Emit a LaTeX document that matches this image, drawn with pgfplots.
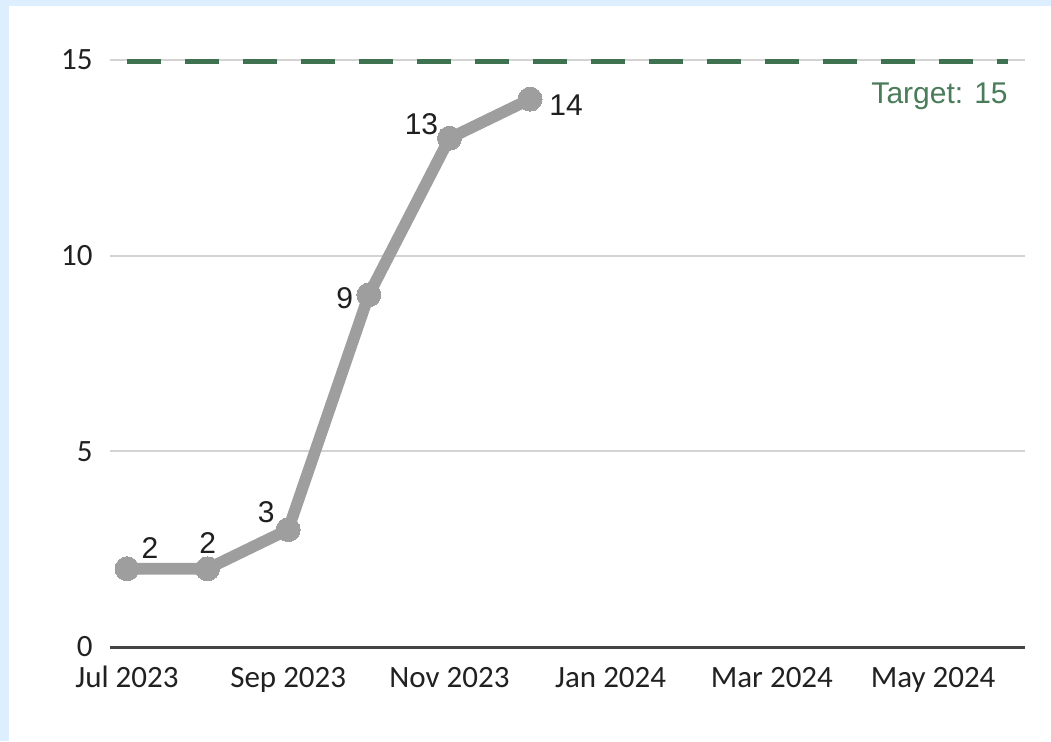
\documentclass[border=0pt]{standalone}
\usepackage{pgfplots}
\pgfplotsset{compat=1.18}
\usepackage{fontspec}
\setmainfont{Carlito}
\newfontfamily\labelfont{Liberation Sans}
\definecolor{bgblue}{HTML}{DDEEFE}
\definecolor{linegrey}{HTML}{9E9E9E}
\definecolor{targetgreen}{HTML}{3F7250}
\definecolor{targettext}{HTML}{4A7C59}
\definecolor{gridgrey}{HTML}{D3D3D3}
\definecolor{axisgrey}{HTML}{444444}

\begin{document}
\begin{tikzpicture}
\path[use as bounding box] (0,0) rectangle (525.5pt,370.5pt);
\fill[white] (0,0) rectangle (525.5pt,370.5pt);
\fill[bgblue] (0,0) rectangle (4.5pt,370.5pt);
\fill[bgblue] (0,367.5pt) rectangle (525.5pt,370.5pt);
\begin{axis}[
  at={(55pt,47pt)}, anchor=south west,
  scale only axis, width=457.5pt, height=293.5pt,
  xmin=-0.211, xmax=11.14, ymin=0, ymax=15,
  axis line style={draw=none},
  xtick={0,2,4,6,8,10},
  xticklabels={Jul 2023,Sep 2023,Nov 2023,Jan 2024,Mar 2024,May 2024},
  ytick={0,5,10,15},
  major tick length=0pt,
  ymajorgrids, grid style={gridgrey, line width=1pt},
  tick label style={font=\fontsize{15.5}{18}\selectfont, text=black!87},
  /pgf/number format/assume math mode=true,
  xticklabel style={inner sep=1pt, text height=11pt, text depth=3pt, yshift=-8pt},
  yticklabel style={inner sep=1pt, xshift=-7.5pt},
  clip=false,
]
% target line
\addplot[targetgreen, line width=2.5pt, dash pattern=on 17pt off 12pt]
  coordinates {(0,14.95) (10.93,14.95)};
\draw[axisgrey, line width=1.5pt] (rel axis cs:0,0) -- (rel axis cs:1,0);
% actual values
\addplot[linegrey, line width=5.8pt, line join=round,
  mark=*, mark size=6pt, mark options={solid, line width=0pt, fill=linegrey},
  point meta=explicit symbolic,
  nodes near coords={\pgfplotspointmeta},
  visualization depends on={\thisrow{dx}\as\dx},
  visualization depends on={\thisrow{dy}\as\dy},
  every node near coord/.append style={anchor=center, xshift=\dx pt, yshift=\dy pt,
    font=\labelfont\fontsize{15}{18}\selectfont, text=black!88},
] table[meta=y] {
x y dx dy
0 2 11.5 10.5
1 2 0 13
2 3 -11 8.5
3 9 -12 -1.5
4 13 -14 7
5 14 18 -3
};
\node[anchor=east, text=targettext, inner sep=0pt,
  font=\labelfont\fontsize{15}{18}\selectfont] at (axis cs:10.93,14.06) {Target: 15};
\end{axis}
\end{tikzpicture}
\end{document}
